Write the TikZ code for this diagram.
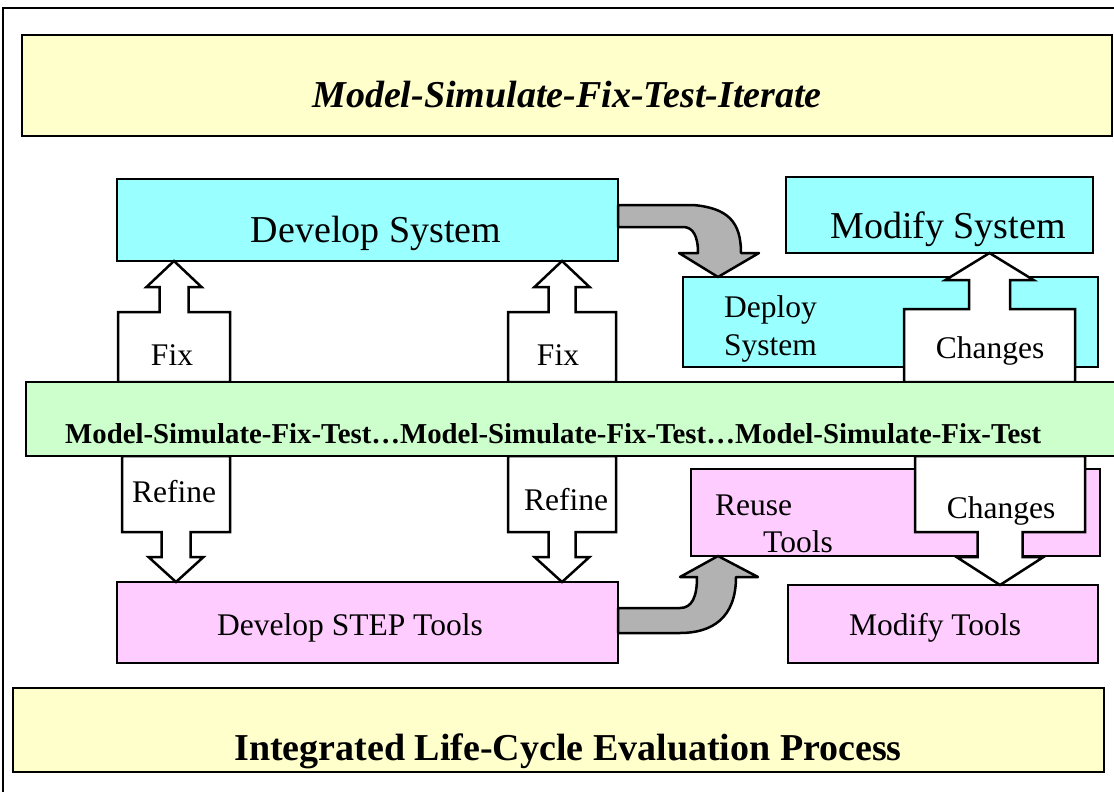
\documentclass[tikz,border=0pt]{standalone}
\usepackage{fontspec}
\setmainfont{Liberation Serif}
\usepackage{tikz}
\usetikzlibrary{calc}

\definecolor{sysblue}{HTML}{99FFFF}
\definecolor{toolpink}{HTML}{FFCCFF}
\definecolor{msftgreen}{HTML}{CCFFCC}
\definecolor{bannery}{HTML}{FFFFCC}
\definecolor{arrowgray}{HTML}{B2B2B2}

\tikzset{
  box/.style={draw, line width=2.5pt, inner sep=0pt, outer sep=0pt, anchor=north west},
  sysbox/.style={box, fill=sysblue},
  toolbox/.style={box, fill=toolpink},
  banner/.style={box, fill=bannery},
  body/.style={inner sep=0pt, outer sep=0pt, anchor=north west},
  callout/.style={draw, line width=2.5pt, fill=white, line join=miter},
  bentarrow/.style={draw, line width=2.5pt, fill=arrowgray, line join=round},
  lbl/.style={anchor=base, inner sep=0pt, font=\fontsize{31.5}{38}\selectfont},
  title/.style={anchor=base, inner sep=0pt, font=\fontsize{38}{40}\selectfont},
}

\newcommand{\upcall}[5]{%
  \draw[callout] (#1.south west) -- (#1.north west) -- ($(#1.north)+(-#3,0)$)
    -- ($(#1.north |- #2.south)+(-#3,#5)$) -- ($(#1.north |- #2.south)+(-#4,#5)$)
    -- (#1.north |- #2.south) -- ($(#1.north |- #2.south)+(#4,#5)$)
    -- ($(#1.north |- #2.south)+(#3,#5)$) -- ($(#1.north)+(#3,0)$)
    -- (#1.north east) -- (#1.south east) -- cycle;}
\newcommand{\downcall}[5]{%
  \draw[callout] (#1.north west) -- (#1.south west) -- ($(#1.south)+(-#3,0)$)
    -- ($(#1.south |- #2.north)+(-#3,-#5)$) -- ($(#1.south |- #2.north)+(-#4,-#5)$)
    -- (#1.south |- #2.north) -- ($(#1.south |- #2.north)+(#4,-#5)$)
    -- ($(#1.south |- #2.north)+(#3,-#5)$) -- ($(#1.south)+(#3,0)$)
    -- (#1.south east) -- (#1.north east) -- cycle;}

\begin{document}
\begin{tikzpicture}[x=1pt, y=-1pt]

\path[fill=white, use as bounding box] (0,0) rectangle (1114,792);
\draw[line width=2.5pt] (1120,8) -- (3,8) -- (3,795);

\node[banner, minimum width=1090pt, minimum height=101pt] (iterate) at (22,35) {};
\node[banner, minimum width=1091pt, minimum height=84pt] (ilcep) at (13,688) {};

\node[sysbox, minimum width=501pt, minimum height=82pt] (devsys) at (117,179) {};
\node[sysbox, minimum width=307pt, minimum height=76pt] (modsys) at (786,177) {};
\node[toolbox, minimum width=501pt, minimum height=81pt] (steptools) at (117,582) {};
\node[toolbox, minimum width=310pt, minimum height=78pt] (modtools) at (788,585) {};
\node[sysbox, minimum width=415pt, minimum height=90pt] (deploy) at (683,277) {};
\node[toolbox, minimum width=409pt, minimum height=87pt] (reuse) at (691,469) {};

\draw[bentarrow] (devsys.east |- 0,205) -- (693,205) .. controls (728,208) and (741,222) .. (741,253)
  -- (759,253) -- ($(deploy.north west)+(35,0)$) -- (679,253) -- (698,253)
  .. controls (698,236) and (693,227) .. (683,227) -- (devsys.east |- 0,227) -- cycle;
\draw[bentarrow] (steptools.east |- 0,608) -- (680,608) .. controls (692,608) and (697,597) .. (697,577)
  -- (680,577) -- ($(reuse.south west)+(27,0)$) -- (758,577) -- (736,577)
  .. controls (736,618) and (712,633) .. (680,633) -- (steptools.east |- 0,633) -- cycle;

\node[body, minimum width=112pt, minimum height=70pt] (fixL) at (118,312) {};
\node[body, minimum width=108pt, minimum height=70pt] (fixR) at (508,312) {};
\node[body, minimum width=108pt, minimum height=76pt] (refL) at (122,456) {};
\node[body, minimum width=108pt, minimum height=76pt] (refR) at (508,456) {};
\node[body, minimum width=171pt, minimum height=73pt] (chgUp) at (904,309) {};
\node[body, minimum width=170pt, minimum height=76pt] (chgDn) at (915,456) {};

\upcall{fixL}{devsys}{14.5}{27.5}{26}
\upcall{fixR}{devsys}{13.5}{27.5}{26}
\upcall{chgUp}{modsys}{20.5}{44}{27}
\downcall{refL}{steptools}{14.5}{27.5}{25}
\downcall{refR}{steptools}{13.5}{27.5}{25}
\downcall{chgDn}{modtools}{22.5}{43.5}{28}

\node[box, fill=msftgreen, minimum width=1100pt, minimum height=74pt] (msft) at (26,382) {};

\node[title, font=\fontsize{38}{40}\selectfont\bfseries\itshape] (iteratetxt) at (567,107) {Model-Simulate-Fix-Test-Iterate};
\node[title] (devsystxt) at (376,242) {Develop System};
\node[title] (modsystxt) at (948,238) {Modify System};
\node[lbl, anchor=base west] (deploytxt) at (724,317) {Deploy};
\node[lbl, anchor=base west] (deploytxtb) at (724,355) {System};
\node[lbl] (chgUptxt) at (990,358) {Changes};
\node[lbl] (fixLtxt) at (172,365) {Fix};
\node[lbl] (fixRtxt) at (558,365) {Fix};
\node[anchor=base west, inner sep=0pt, font=\fontsize{28.8}{30}\selectfont\bfseries] (msfttxt) at (65,443)
  {Model-Simulate-Fix-Test…Model-Simulate-Fix-Test…Model-Simulate-Fix-Test};
\node[lbl] (refLtxt) at (174,502) {Refine};
\node[lbl] (refRtxt) at (566,510) {Refine};
\node[lbl, anchor=base west] (reusetxt) at (715,515) {Reuse};
\node[lbl, anchor=base west] (reusetxtb) at (763,552) {Tools};
\node[lbl] (chgDntxt) at (1001,518) {Changes};
\node[lbl] (steptxt) at (350,635) {Develop STEP Tools};
\node[lbl] (modtoolstxt) at (935,635) {Modify Tools};
\node[title, font=\fontsize{38}{40}\selectfont\bfseries] (ilceptxt) at (568,760) {Integrated Life-Cycle Evaluation Process};

\end{tikzpicture}
\end{document}
